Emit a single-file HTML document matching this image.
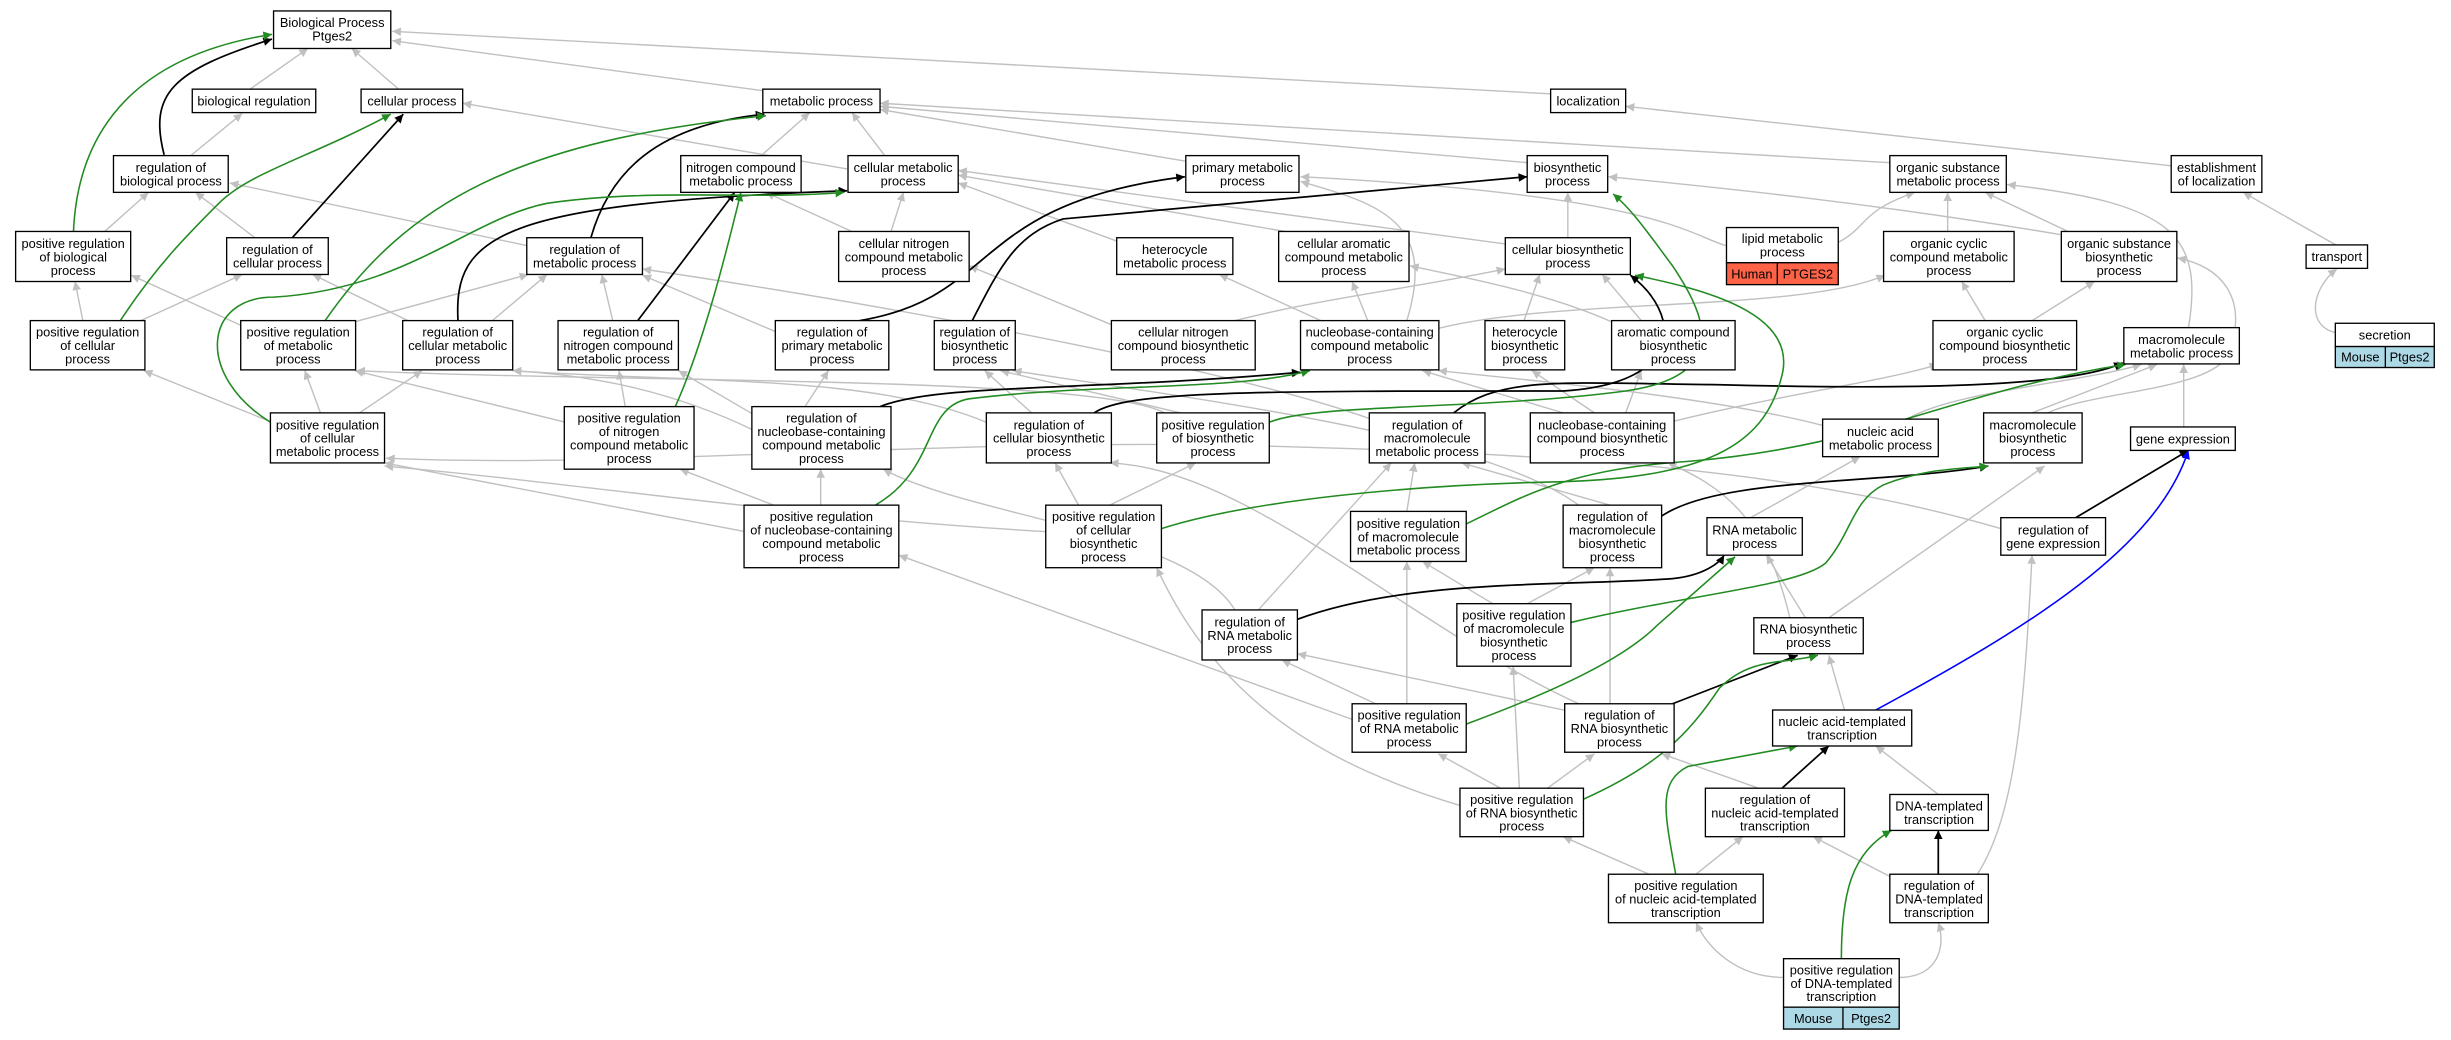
<!DOCTYPE html>
<html><head><meta charset="utf-8"><style>
html,body{margin:0;padding:0;background:#fff;}
svg{display:block;}
text{font-family:"Liberation Sans",sans-serif;font-size:8.2px;fill:#000;text-anchor:middle;}
.n rect{fill:#fff;stroke:#000;stroke-width:0.85;}
.g{fill:none;stroke:#c0c0c0;stroke-width:0.9;marker-end:url(#ag);}
.k{fill:none;stroke:#000;stroke-width:1.1;marker-end:url(#ak);}
.gr{fill:none;stroke:#228b22;stroke-width:1;marker-end:url(#agr);}
.b{fill:none;stroke:#00f;stroke-width:1;marker-end:url(#ab);}
</style></head><body>
<svg width="2451" height="1040" viewBox="0 0 1568 665" preserveAspectRatio="none" xmlns="http://www.w3.org/2000/svg">
<defs>
<marker id="ag" viewBox="0 0 10 10" refX="10" refY="5" markerWidth="7" markerHeight="5.5" markerUnits="userSpaceOnUse" orient="auto"><path d="M0,0L10,5L0,10z" fill="#c0c0c0"/></marker>
<marker id="ak" viewBox="0 0 10 10" refX="10" refY="5" markerWidth="7" markerHeight="5.5" markerUnits="userSpaceOnUse" orient="auto"><path d="M0,0L10,5L0,10z" fill="#000"/></marker>
<marker id="agr" viewBox="0 0 10 10" refX="10" refY="5" markerWidth="7" markerHeight="5.5" markerUnits="userSpaceOnUse" orient="auto"><path d="M0,0L10,5L0,10z" fill="#228b22"/></marker>
<marker id="ab" viewBox="0 0 10 10" refX="10" refY="5" markerWidth="7" markerHeight="5.5" markerUnits="userSpaceOnUse" orient="auto"><path d="M0,0L10,5L0,10z" fill="#00f"/></marker>
</defs>
<rect width="1568" height="665" fill="#fff"/>
<path class="g" d="M160,57L197,31"/>
<path class="g" d="M255,57L225,31"/>
<path class="g" d="M488,58L251,26"/>
<path class="g" d="M992,60L251,20"/>
<path class="g" d="M122,99.5L155,72.5"/>
<path class="g" d="M67,148L95,123"/>
<path class="g" d="M163,152L125,123"/>
<path class="g" d="M53,205L48,180"/>
<path class="g" d="M90,205L155,175.5"/>
<path class="g" d="M337,157L147,117"/>
<path class="g" d="M154,208L84,176"/>
<path class="g" d="M226,206L338,175.5"/>
<path class="g" d="M261,205L200,175.5"/>
<path class="g" d="M315,205L350,175.5"/>
<path class="g" d="M392,205L385,175.5"/>
<path class="g" d="M496,212L411,176"/>
<path class="g" d="M487,99.5L518,72"/>
<path class="g" d="M566,99.5L545,72"/>
<path class="g" d="M542,108L296,66"/>
<path class="g" d="M758,103L563,70"/>
<path class="g" d="M977,104L563,68"/>
<path class="g" d="M1209,104L563,66"/>
<path class="g" d="M1389,106L1040,68"/>
<path class="g" d="M1495,157L1435,123"/>
<path class="g" d="M1496,213C1475,210 1478,185 1495,172"/>
<path class="g" d="M570,148L578,123"/>
<path class="g" d="M545,148L490,123"/>
<path class="g" d="M714,154L613,117"/>
<path class="g" d="M822,148L613,112"/>
<path class="g" d="M963,156L613,109"/>
<path class="g" d="M1003,152L1003,123"/>
<path class="g" d="M1104,157C1080,150 1060,125 832,113"/>
<path class="g" d="M1176,155C1195,145 1190,135 1225,123"/>
<path class="g" d="M1246,148L1246,123"/>
<path class="g" d="M1323,148L1270,123"/>
<path class="g" d="M1318,150C1200,130 1100,120 1029,113"/>
<path class="g" d="M1400,210C1410,150 1390,130 1284,118"/>
<path class="g" d="M975,205L985,175.5"/>
<path class="g" d="M1050,205L1025,175.5"/>
<path class="g" d="M1040,210C1000,190 950,180 902,170"/>
<path class="g" d="M875,205L865,180"/>
<path class="g" d="M845,205L780,175.5"/>
<path class="g" d="M900,205C920,140 880,130 832,116"/>
<path class="g" d="M920,210C1000,190 1150,200 1206,176"/>
<path class="g" d="M712,208L620,170"/>
<path class="g" d="M790,205C850,190 900,185 963,172"/>
<path class="g" d="M1270,205L1255,180"/>
<path class="g" d="M1300,205L1340,180"/>
<path class="g" d="M1300,264L1380,233"/>
<path class="g" d="M1310,264C1340,250 1410,250 1425,228C1440,190 1420,170 1393,165"/>
<path class="g" d="M1397,273L1397,233"/>
<path class="g" d="M1220,268C1250,250 1330,245 1370,233"/>
<path class="g" d="M1166,272C1100,255 1000,245 920,237"/>
<path class="g" d="M174,270L92,237"/>
<path class="g" d="M205,264L195,237"/>
<path class="g" d="M230,264L270,237"/>
<path class="g" d="M400,260L396,237"/>
<path class="g" d="M362,270L227,237"/>
<path class="g" d="M515,260L530,237"/>
<path class="g" d="M482,265L434,237"/>
<path class="g" d="M482,275C430,250 380,240 328,237"/>
<path class="g" d="M477,340L246,296"/>
<path class="g" d="M495,323L435,300"/>
<path class="g" d="M525,323L525,300"/>
<path class="g" d="M660,264L630,237"/>
<path class="g" d="M631,270C560,240 450,245 328,237"/>
<path class="g" d="M755,264L640,237"/>
<path class="g" d="M745,264C700,240 400,245 228,237"/>
<path class="g" d="M690,323L675,296"/>
<path class="g" d="M710,323L765,296"/>
<path class="g" d="M670,340C500,330 380,310 246,298"/>
<path class="g" d="M877,268C800,240 600,200 411,172"/>
<path class="g" d="M1000,264L910,237"/>
<path class="g" d="M1020,264L980,237"/>
<path class="g" d="M1040,264L1050,237"/>
<path class="g" d="M1068,270C1150,250 1200,245 1240,233"/>
<path class="g" d="M900,327L905,296"/>
<path class="g" d="M1030,323L935,296"/>
<path class="g" d="M1010,323C950,280 800,260 648,237"/>
<path class="g" d="M1120,331L1190,292"/>
<path class="g" d="M1280,338C1150,300 1000,290 800,285C600,280 400,300 247,293"/>
<path class="g" d="M955,386L910,359"/>
<path class="g" d="M977,386L1020,363"/>
<path class="g" d="M790,390C760,340 620,330 565,300"/>
<path class="g" d="M805,390L890,296"/>
<path class="g" d="M1155,395L1130,355"/>
<path class="g" d="M1170,395L1308,298"/>
<path class="g" d="M1145,395C1130,330 1100,310 1067,296"/>
<path class="g" d="M900,450L900,359"/>
<path class="g" d="M880,450L820,422"/>
<path class="g" d="M865,460L575,355"/>
<path class="g" d="M1030,450L1030,363"/>
<path class="g" d="M1005,455L830,418"/>
<path class="g" d="M1010,450C900,400 800,300 710,296"/>
<path class="g" d="M1180,454L1170,419"/>
<path class="g" d="M960,504L920,482"/>
<path class="g" d="M990,504L1020,482"/>
<path class="g" d="M972,504L968,426"/>
<path class="g" d="M934,515C850,490 780,450 740,363"/>
<path class="g" d="M1125,504L1063,482"/>
<path class="g" d="M1240,508L1200,477"/>
<path class="g" d="M1055,559L1000,535"/>
<path class="g" d="M1085,559L1115,535"/>
<path class="g" d="M1212,562L1160,535"/>
<path class="g" d="M1265,559C1290,520 1295,450 1300,355"/>
<path class="g" d="M1141,625C1110,625 1092,605 1085,590"/>
<path class="g" d="M1215,625C1240,625 1245,605 1240,590"/>
<path class="k" d="M105,99C95,60 110,45 174,25"/>
<path class="k" d="M187,152L258,73"/>
<path class="k" d="M293,205C290,150 320,130 542,122"/>
<path class="k" d="M408,205L470,123"/>
<path class="k" d="M378,152C390,110 420,80 489,73"/>
<path class="k" d="M550,205C640,190 620,130 758,113"/>
<path class="k" d="M622,205C640,170 650,150 680,140L977,113"/>
<path class="k" d="M563,260C600,245 700,250 832,238"/>
<path class="k" d="M700,264C720,250 800,250 1000,250C1080,245 1075,200 1043,176"/>
<path class="k" d="M930,264C960,240 1000,245 1100,246C1250,250 1330,245 1358,232"/>
<path class="k" d="M1063,330C1100,305 1200,310 1272,298"/>
<path class="k" d="M1328,331L1400,288"/>
<path class="k" d="M830,396C900,370 1000,375 1070,370C1090,368 1100,360 1103,355"/>
<path class="k" d="M1070,450L1150,419"/>
<path class="k" d="M1140,504L1170,477"/>
<path class="k" d="M1240,559L1240,531"/>
<path class="gr" d="M47,148C50,80 90,35 174,22"/>
<path class="gr" d="M77,205C100,170 120,150 140,130S200,100 250,73"/>
<path class="gr" d="M208,205C260,130 330,90 490,74"/>
<path class="gr" d="M173,270C125,240 130,190 175,190C260,185 300,140 350,130C420,120 480,128 540,123"/>
<path class="gr" d="M432,260C450,220 465,160 474,123"/>
<path class="gr" d="M560,323C600,300 590,260 620,255C700,245 790,250 838,237"/>
<path class="gr" d="M812,270C840,258 950,262 1040,250C1110,240 1090,200 1070,170C1055,150 1045,135 1032,124"/>
<path class="gr" d="M743,338C800,320 900,310 1000,308C1100,305 1130,280 1140,240C1150,200 1090,185 1046,176"/>
<path class="gr" d="M938,335C970,320 1000,300 1080,295C1200,285 1250,250 1360,233"/>
<path class="gr" d="M1005,398C1080,380 1150,375 1168,360C1185,340 1185,320 1205,310C1230,300 1250,300 1272,298"/>
<path class="gr" d="M938,463C1000,440 1040,420 1060,400L1110,356"/>
<path class="gr" d="M1013,511C1060,490 1080,470 1100,440C1120,420 1140,425 1163,419"/>
<path class="gr" d="M1072,559C1065,520 1060,500 1080,490L1150,477"/>
<path class="gr" d="M1178,613C1178,570 1185,545 1210,531"/>
<path class="b" d="M1200,454C1300,400 1380,350 1400,288"/>

<g class="n">
<rect x="175" y="7" width="75" height="24"/><text x="212.5" y="17.2">Biological Process<tspan x="212.5" dy="8.6">Ptges2</tspan></text>
<rect x="123" y="57" width="79" height="15"/><text x="162.5" y="67.5">biological regulation</text>
<rect x="231" y="57" width="65" height="15"/><text x="263.5" y="67.5">cellular process</text>
<rect x="488" y="57" width="75" height="15"/><text x="525.5" y="67.5">metabolic process</text>
<rect x="992" y="57" width="48" height="15"/><text x="1016" y="67.5">localization</text>

<rect x="72.6" y="99.5" width="73.4" height="23.5"/><text x="109.3" y="110">regulation of<tspan x="109.3" dy="8.6">biological process</tspan></text>
<rect x="435.5" y="99.5" width="77" height="23.5"/><text x="474" y="110">nitrogen compound<tspan x="474" dy="8.6">metabolic process</tspan></text>
<rect x="542.5" y="99.5" width="70.5" height="23.5"/><text x="577.75" y="110">cellular metabolic<tspan x="577.75" dy="8.6">process</tspan></text>
<rect x="758.6" y="99.5" width="72.4" height="23.5"/><text x="794.8" y="110">primary metabolic<tspan x="794.8" dy="8.6">process</tspan></text>
<rect x="977" y="99.5" width="51.5" height="23.5"/><text x="1002.75" y="110">biosynthetic<tspan x="1002.75" dy="8.6">process</tspan></text>
<rect x="1209" y="99.5" width="74.5" height="23.5"/><text x="1246.25" y="110">organic substance<tspan x="1246.25" dy="8.6">metabolic process</tspan></text>
<rect x="1389" y="99.5" width="58" height="23.5"/><text x="1418" y="110">establishment<tspan x="1418" dy="8.6">of localization</tspan></text>

<rect x="10" y="148" width="73.6" height="32"/><text x="46.8" y="158.5">positive regulation<tspan x="46.8" dy="8.6">of biological</tspan><tspan x="46.8" dy="8.6">process</tspan></text>
<rect x="536.5" y="148" width="83.5" height="32"/><text x="578.25" y="158.5">cellular nitrogen<tspan x="578.25" dy="8.6">compound metabolic</tspan><tspan x="578.25" dy="8.6">process</tspan></text>
<rect x="818" y="148" width="83.4" height="32"/><text x="859.7" y="158.5">cellular aromatic<tspan x="859.7" dy="8.6">compound metabolic</tspan><tspan x="859.7" dy="8.6">process</tspan></text>
<rect x="1205" y="148" width="83.5" height="32"/><text x="1246.75" y="158.5">organic cyclic<tspan x="1246.75" dy="8.6">compound metabolic</tspan><tspan x="1246.75" dy="8.6">process</tspan></text>
<rect x="1318.7" y="148" width="73.9" height="32"/><text x="1355.65" y="158.5">organic substance<tspan x="1355.65" dy="8.6">biosynthetic</tspan><tspan x="1355.65" dy="8.6">process</tspan></text>

<rect x="145" y="152" width="65" height="23.5"/><text x="177.5" y="162.5">regulation of<tspan x="177.5" dy="8.6">cellular process</tspan></text>
<rect x="337" y="152" width="74" height="23.5"/><text x="374" y="162.5">regulation of<tspan x="374" dy="8.6">metabolic process</tspan></text>
<rect x="714.4" y="152" width="74.3" height="23.5"/><text x="751.55" y="162.5">heterocycle<tspan x="751.55" dy="8.6">metabolic process</tspan></text>
<rect x="963" y="152" width="80" height="23.5"/><text x="1003" y="162.5">cellular biosynthetic<tspan x="1003" dy="8.6">process</tspan></text>

<rect x="1104.5" y="145.5" width="71.5" height="22.5"/><text x="1140.25" y="155.5">lipid metabolic<tspan x="1140.25" dy="8.6">process</tspan></text>
<rect x="1104.5" y="168" width="71.5" height="14" style="fill:#ff6347"/><line x1="1137" y1="168" x2="1137" y2="182" stroke="#000" stroke-width="0.85"/>
<text x="1120.75" y="178">Human</text><text x="1156.6" y="178">PTGES2</text>

<rect x="1475.3" y="156.6" width="39.3" height="15"/><text x="1494.95" y="167">transport</text>

<rect x="19.4" y="205" width="73.3" height="31.5"/><text x="56.05" y="215.3">positive regulation<tspan x="56.05" dy="8.6">of cellular</tspan><tspan x="56.05" dy="8.6">process</tspan></text>
<rect x="154" y="205" width="73.5" height="31.5"/><text x="190.75" y="215.3">positive regulation<tspan x="190.75" dy="8.6">of metabolic</tspan><tspan x="190.75" dy="8.6">process</tspan></text>
<rect x="257.6" y="205" width="70.4" height="31.5"/><text x="292.8" y="215.3">regulation of<tspan x="292.8" dy="8.6">cellular metabolic</tspan><tspan x="292.8" dy="8.6">process</tspan></text>
<rect x="357" y="205" width="77" height="31.5"/><text x="395.5" y="215.3">regulation of<tspan x="395.5" dy="8.6">nitrogen compound</tspan><tspan x="395.5" dy="8.6">metabolic process</tspan></text>
<rect x="496" y="205" width="72.6" height="31.5"/><text x="532.3" y="215.3">regulation of<tspan x="532.3" dy="8.6">primary metabolic</tspan><tspan x="532.3" dy="8.6">process</tspan></text>
<rect x="597.7" y="205" width="51.8" height="31.5"/><text x="623.6" y="215.3">regulation of<tspan x="623.6" dy="8.6">biosynthetic</tspan><tspan x="623.6" dy="8.6">process</tspan></text>
<rect x="711" y="205" width="92" height="31.5"/><text x="757" y="215.3">cellular nitrogen<tspan x="757" dy="8.6">compound biosynthetic</tspan><tspan x="757" dy="8.6">process</tspan></text>
<rect x="832" y="205" width="88.5" height="31.5"/><text x="876.25" y="215.3">nucleobase-containing<tspan x="876.25" dy="8.6">compound metabolic</tspan><tspan x="876.25" dy="8.6">process</tspan></text>
<rect x="950" y="205" width="51" height="31.5"/><text x="975.5" y="215.3">heterocycle<tspan x="975.5" dy="8.6">biosynthetic</tspan><tspan x="975.5" dy="8.6">process</tspan></text>
<rect x="1031" y="205" width="79" height="31.5"/><text x="1070.5" y="215.3">aromatic compound<tspan x="1070.5" dy="8.6">biosynthetic</tspan><tspan x="1070.5" dy="8.6">process</tspan></text>
<rect x="1236.6" y="205" width="91.9" height="31.5"/><text x="1282.55" y="215.3">organic cyclic<tspan x="1282.55" dy="8.6">compound biosynthetic</tspan><tspan x="1282.55" dy="8.6">process</tspan></text>
<rect x="1358.7" y="209.5" width="73.9" height="23.2"/><text x="1395.65" y="219.9">macromolecule<tspan x="1395.65" dy="8.6">metabolic process</tspan></text>

<rect x="1494" y="206.7" width="63.3" height="14.9"/><text x="1525.65" y="217.2">secretion</text>
<rect x="1494" y="221.6" width="63.3" height="13.4" style="fill:#add8e6"/><line x1="1526" y1="221.6" x2="1526" y2="235" stroke="#000" stroke-width="0.85"/>
<text x="1510" y="231.3">Mouse</text><text x="1541.5" y="231.3">Ptges2</text>

<rect x="173" y="264" width="73" height="32"/><text x="209.5" y="274.5">positive regulation<tspan x="209.5" dy="8.6">of cellular</tspan><tspan x="209.5" dy="8.6">metabolic process</tspan></text>
<rect x="361" y="260" width="83" height="40"/><text x="402.5" y="270.2">positive regulation<tspan x="402.5" dy="8.6">of nitrogen</tspan><tspan x="402.5" dy="8.6">compound metabolic</tspan><tspan x="402.5" dy="8.6">process</tspan></text>
<rect x="481" y="260" width="89" height="40"/><text x="525.5" y="270.2">regulation of<tspan x="525.5" dy="8.6">nucleobase-containing</tspan><tspan x="525.5" dy="8.6">compound metabolic</tspan><tspan x="525.5" dy="8.6">process</tspan></text>
<rect x="631" y="264" width="80" height="32"/><text x="671" y="274.5">regulation of<tspan x="671" dy="8.6">cellular biosynthetic</tspan><tspan x="671" dy="8.6">process</tspan></text>
<rect x="740" y="264" width="72" height="32"/><text x="776" y="274.5">positive regulation<tspan x="776" dy="8.6">of biosynthetic</tspan><tspan x="776" dy="8.6">process</tspan></text>
<rect x="876" y="264" width="74" height="32"/><text x="913" y="274.5">regulation of<tspan x="913" dy="8.6">macromolecule</tspan><tspan x="913" dy="8.6">metabolic process</tspan></text>
<rect x="979" y="264" width="92" height="32"/><text x="1025" y="274.5">nucleobase-containing<tspan x="1025" dy="8.6">compound biosynthetic</tspan><tspan x="1025" dy="8.6">process</tspan></text>
<rect x="1166" y="268" width="74" height="24"/><text x="1203" y="278.7">nucleic acid<tspan x="1203" dy="8.6">metabolic process</tspan></text>
<rect x="1269" y="264" width="63" height="32"/><text x="1300.5" y="274.5">macromolecule<tspan x="1300.5" dy="8.6">biosynthetic</tspan><tspan x="1300.5" dy="8.6">process</tspan></text>
<rect x="1363" y="273" width="67" height="15"/><text x="1396.5" y="283.5">gene expression</text>

<rect x="476" y="323" width="99" height="40"/><text x="525.5" y="333.2">positive regulation<tspan x="525.5" dy="8.6">of nucleobase-containing</tspan><tspan x="525.5" dy="8.6">compound metabolic</tspan><tspan x="525.5" dy="8.6">process</tspan></text>
<rect x="669" y="323" width="74" height="40"/><text x="706" y="333.2">positive regulation<tspan x="706" dy="8.6">of cellular</tspan><tspan x="706" dy="8.6">biosynthetic</tspan><tspan x="706" dy="8.6">process</tspan></text>
<rect x="864" y="327" width="74" height="32"/><text x="901" y="337.5">positive regulation<tspan x="901" dy="8.6">of macromolecule</tspan><tspan x="901" dy="8.6">metabolic process</tspan></text>
<rect x="1000" y="323" width="63" height="40"/><text x="1031.5" y="333.2">regulation of<tspan x="1031.5" dy="8.6">macromolecule</tspan><tspan x="1031.5" dy="8.6">biosynthetic</tspan><tspan x="1031.5" dy="8.6">process</tspan></text>
<rect x="1092" y="331" width="61" height="24"/><text x="1122.5" y="341.7">RNA metabolic<tspan x="1122.5" dy="8.6">process</tspan></text>
<rect x="1280" y="331" width="67" height="24"/><text x="1313.5" y="341.7">regulation of<tspan x="1313.5" dy="8.6">gene expression</tspan></text>

<rect x="769" y="390" width="61" height="32"/><text x="799.5" y="400.5">regulation of<tspan x="799.5" dy="8.6">RNA metabolic</tspan><tspan x="799.5" dy="8.6">process</tspan></text>
<rect x="932" y="386" width="73" height="40"/><text x="968.5" y="396.2">positive regulation<tspan x="968.5" dy="8.6">of macromolecule</tspan><tspan x="968.5" dy="8.6">biosynthetic</tspan><tspan x="968.5" dy="8.6">process</tspan></text>
<rect x="1122" y="395" width="70" height="23"/><text x="1157" y="405.2">RNA biosynthetic<tspan x="1157" dy="8.6">process</tspan></text>

<rect x="865" y="450" width="73" height="31"/><text x="901.5" y="460">positive regulation<tspan x="901.5" dy="8.6">of RNA metabolic</tspan><tspan x="901.5" dy="8.6">process</tspan></text>
<rect x="1001" y="450" width="70" height="31"/><text x="1036" y="460">regulation of<tspan x="1036" dy="8.6">RNA biosynthetic</tspan><tspan x="1036" dy="8.6">process</tspan></text>
<rect x="1134" y="454" width="89" height="23"/><text x="1178.5" y="464.2">nucleic acid-templated<tspan x="1178.5" dy="8.6">transcription</tspan></text>

<rect x="934" y="504" width="79" height="31"/><text x="973.5" y="514">positive regulation<tspan x="973.5" dy="8.6">of RNA biosynthetic</tspan><tspan x="973.5" dy="8.6">process</tspan></text>
<rect x="1091" y="504" width="89" height="31"/><text x="1135.5" y="514">regulation of<tspan x="1135.5" dy="8.6">nucleic acid-templated</tspan><tspan x="1135.5" dy="8.6">transcription</tspan></text>
<rect x="1209" y="508" width="63" height="23"/><text x="1240.5" y="518.2">DNA-templated<tspan x="1240.5" dy="8.6">transcription</tspan></text>

<rect x="1029" y="559" width="99" height="31"/><text x="1078.5" y="569">positive regulation<tspan x="1078.5" dy="8.6">of nucleic acid-templated</tspan><tspan x="1078.5" dy="8.6">transcription</tspan></text>
<rect x="1209" y="559" width="63" height="31"/><text x="1240.5" y="569">regulation of<tspan x="1240.5" dy="8.6">DNA-templated</tspan><tspan x="1240.5" dy="8.6">transcription</tspan></text>

<rect x="1141" y="613" width="74" height="31"/><text x="1178" y="623">positive regulation<tspan x="1178" dy="8.6">of DNA-templated</tspan><tspan x="1178" dy="8.6">transcription</tspan></text>
<rect x="1141" y="644" width="74" height="14" style="fill:#add8e6"/><line x1="1179" y1="644" x2="1179" y2="658" stroke="#000" stroke-width="0.85"/>
<text x="1160" y="654">Mouse</text><text x="1197" y="654">Ptges2</text>
</g>
</svg>
</body></html>
